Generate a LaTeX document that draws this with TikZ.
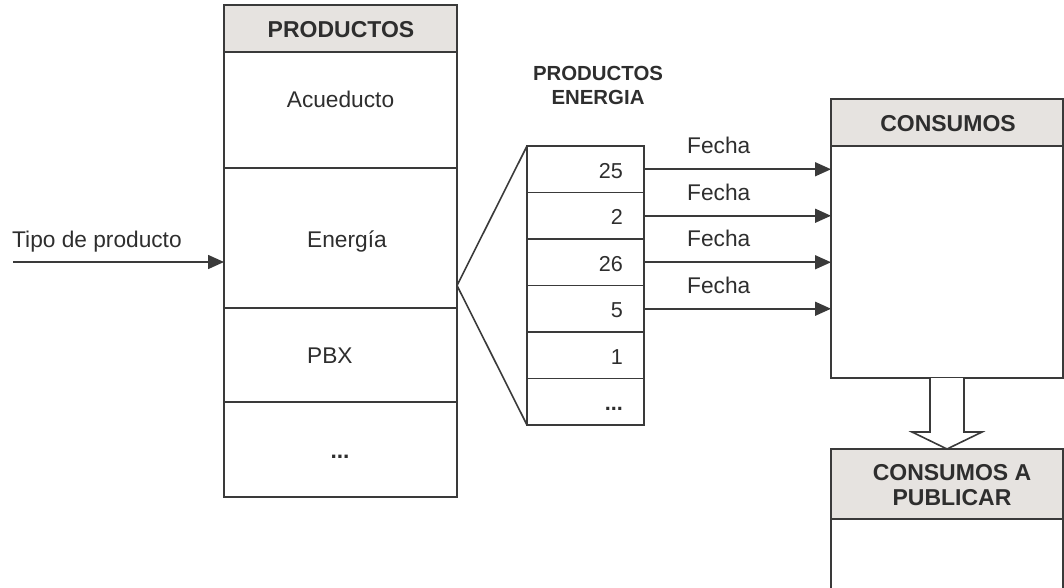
\documentclass[tikz,border=0pt]{standalone}
\usepackage{fontspec}
\setmainfont{Liberation Sans}
\usetikzlibrary{arrows.meta,calc}
\definecolor{ink}{HTML}{3A3A3A}
\definecolor{txt}{HTML}{2E2E2E}
\definecolor{headfill}{HTML}{E6E3E0}
\begin{document}
\begin{tikzpicture}[x=1pt,y=-1pt,
  cell/.style={draw=ink,line width=1.6pt,rectangle,inner sep=0pt,outer sep=0pt,fill=white},
  head/.style={cell,fill=headfill},
  lbl/.style={text=txt,inner sep=0pt,font=\fontsize{22.7}{27}\selectfont},
  bold/.style={lbl,font=\fontsize{23}{25}\selectfont\bfseries},
  num/.style={lbl,font=\fontsize{21.6}{26}\selectfont,anchor=base east},
  link/.style={draw=ink,line width=1.6pt,-{Triangle[length=16pt,width=14pt]}}]
\useasboundingbox (0,0) rectangle (1064,587);
\clip (0,0) rectangle (1064,587);

% product table
\node[head,minimum width=233pt,minimum height=47pt] (phead) at (340.5,28.5) {};
\node[cell,minimum width=233pt,minimum height=116pt] (pacu) at (340.5,110) {};
\node[cell,minimum width=233pt,minimum height=140pt] (pene) at (340.5,238) {};
\node[cell,minimum width=233pt,minimum height=94pt] (ppbx) at (340.5,355) {};
\node[cell,minimum width=233pt,minimum height=95pt] (pmore) at (340.5,449.5) {};
\node[bold,anchor=base] (tphead) at (341,37) {PRODUCTOS};
\node[lbl,anchor=base] (tacu) at (340.5,107) {Acueducto};
\node[lbl,anchor=base west] (tene) at (307,247) {Energía};
\node[lbl,anchor=base west] (tpbx) at (307,363) {PBX};
\node[lbl,anchor=base,font=\fontsize{22.7}{27}\selectfont\bfseries] (tmore) at (340,458) {...};

% input arrow
\node[lbl,anchor=base west] (ttipo) at (12,247) {Tipo de producto};
\coordinate (tipo) at (13,262);
\draw[link] (tipo) -- (tipo -| pene.west);

% energy product list
\node[bold,align=center,font=\fontsize{20.4}{24}\selectfont\bfseries] (tlist) at (598,85) {PRODUCTOS\\ENERGIA};
\node[cell,minimum width=117pt,minimum height=46.5pt] (c1) at (585.5,169.25) {};
\node[cell,minimum width=117pt,minimum height=46.5pt] (c2) at (585.5,215.75) {};
\node[cell,minimum width=117pt,minimum height=46.5pt] (c3) at (585.5,262.25) {};
\node[cell,minimum width=117pt,minimum height=46.5pt] (c4) at (585.5,308.75) {};
\node[cell,minimum width=117pt,minimum height=46.5pt] (c5) at (585.5,355.25) {};
\node[cell,minimum width=117pt,minimum height=46.5pt] (c6) at (585.5,401.75) {};
\node[num] (n1) at (623,178) {25};
\node[num] (n2) at (623,224.5) {2};
\node[num] (n3) at (623,271) {26};
\node[num] (n4) at (623,317.5) {5};
\node[num] (n5) at (623,364) {1};
\node[num,font=\fontsize{21.6}{26}\selectfont\bfseries] (n6) at (623,410.5) {...};

% zoom lines from the energy row
\coordinate (apex) at (pene.east |- c3.south);
\draw[draw=ink,line width=1.6pt,line join=miter] (c1.north west) -- (apex) -- (c6.south west);

% consumption tables
\node[head,minimum width=232pt,minimum height=47pt] (chead) at (947,122.5) {};
\node[cell,minimum width=232pt,minimum height=232pt] (cbody) at (947,262) {};
\node[bold,anchor=base] (tchead) at (948,131) {CONSUMOS};
\node[head,minimum width=232pt,minimum height=70pt] (uhead) at (947,484) {};
\node[cell,minimum width=232pt,minimum height=101pt] (ubody) at (947,569.5) {};
\node[bold,align=center] (tuhead) at (952,485) {CONSUMOS A\\PUBLICAR};

% dated links
\foreach \c/\y in {c1/153,c2/200,c3/246,c4/293}{
  \draw[link] (\c.east) -- (\c.east -| cbody.west);
  \node[lbl,anchor=base west] (f\c) at (687,\y) {Fecha};
}

% block arrow between the consumption tables
\draw[draw=ink,line width=1.6pt,fill=white,line join=miter]
  ($(cbody.south)+(-17,0)$) -- ++(0,54) -- ++(-18,0) -- (uhead.north)
  -- ($(cbody.south)+(35,54)$) -- ++(-18,0) -- ($(cbody.south)+(17,0)$);
\end{tikzpicture}
\end{document}
